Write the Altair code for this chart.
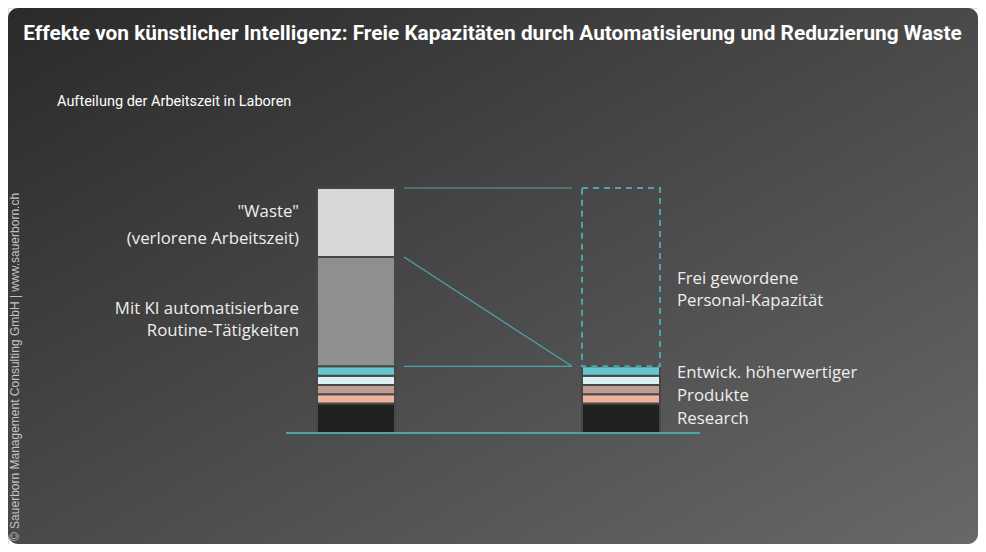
import altair as alt
import pandas as pd

# ---------------- data (% of working time) ----------------
segment_names = ["Research", "Produkte A", "Produkte B", "Produkte C", "Produkte D",
                 "Mit KI automatisierbare Routine-Tätigkeiten", "Waste"]
values_heute = [12.0, 3.8, 3.8, 3.8, 3.8, 44.6, 28.2]
values_mit_ki = [12.0, 3.8, 3.8, 3.8, 3.8, 0.0, 0.0]
segment_colors = ["#212121", "#efb39d", "#bf9c97", "#dcf0f2", "#66c6d0", "#8f8f8f", "#d7d7d7"]

left_label_lines = ['"Waste"', "(verlorene Arbeitszeit)", "Mit KI automatisierbare", "Routine-Tätigkeiten"]
left_label_y = [90.2, 79.2, 50.6, 41.6]
right_label_lines = ["Frei gewordene", "Personal-Kapazität", "Entwick. höherwertiger", "Produkte", "Research"]
right_label_y = [62.9, 53.9, 24.5, 15.1, 5.7]

title_text = "Effekte von künstlicher Intelligenz: Freie Kapazitäten durch Automatisierung und Reduzierung Waste"
subtitle_text = "Aufteilung der Arbeitszeit in Laboren"
credit_text = "© Sauerborn Management Consulting GmbH | www.sauerborn.ch"

# ---------------- layout ----------------
W, H = 970, 536
BAR_HEUTE = (309, 387)
BAR_KI = (574, 652)
CONN = (396, 564)
BASE = (278, 692)
LEFT_LABEL_X = 291
RIGHT_LABEL_X = 669
TEAL = "#4ea4ab"
FONT = "Open Sans"
TFONT = "Roboto"

xs = alt.Scale(domain=[0, W], range=[0, W], nice=False, zero=False)
ys = alt.Scale(domain=[-45.31, 173.47], nice=False, zero=False)

# build tables
rows = []
for bar, (x0, x1), vals in [("Heute", BAR_HEUTE, values_heute), ("Mit KI", BAR_KI, values_mit_ki)]:
    cum = 0.0
    for name, v in zip(segment_names, vals):
        if v > 0:
            rows.append(dict(bar=bar, segment=name, x=x0, x2=x1, y=cum, y2=cum + v))
        cum += v
seg_df = pd.DataFrame(rows)

total = sum(values_heute)
kept = sum(values_mit_ki)
routine_top = sum(values_heute[:6])

free_df = pd.DataFrame([dict(x=BAR_KI[0], x2=BAR_KI[1], y=kept, y2=total)])
conn_df = pd.DataFrame([
    dict(x=CONN[0], x2=CONN[1], y=total, y2=total),
    dict(x=CONN[0], x2=CONN[1], y=routine_top, y2=kept),
    dict(x=CONN[0], x2=CONN[1], y=kept, y2=kept),
])
base_df = pd.DataFrame([dict(x=BASE[0], x2=BASE[1], y=0.0)])
lab_df = pd.DataFrame(
    [dict(t=t, x=LEFT_LABEL_X, y=y, side="L") for t, y in zip(left_label_lines, left_label_y)]
    + [dict(t=t, x=RIGHT_LABEL_X, y=y, side="R") for t, y in zip(right_label_lines, right_label_y)]
)
one = pd.DataFrame({"a": [0]})

X = lambda f: alt.X(f, scale=xs, axis=None)
Y = lambda f: alt.Y(f, scale=ys, axis=None)

bg = alt.Chart(one).mark_rect(
    cornerRadius=10,
    color=alt.LinearGradient(gradient="linear", x1=0, y1=0, x2=1, y2=1,
                             stops=[alt.GradientStop(offset=0, color="#2a2a2a"),
                                    alt.GradientStop(offset=1, color="#686868")]),
).encode(x=alt.value(0), x2=alt.value(W), y=alt.value(0), y2=alt.value(H))

title = alt.Chart(one).mark_text(
    text=title_text, font=TFONT, fontSize=20.8, fontWeight="bold", color="#ffffff",
    align="center", baseline="middle",
).encode(x=alt.value(484.5), y=alt.value(26))

subtitle = alt.Chart(one).mark_text(
    text=subtitle_text, font=TFONT, fontSize=14.5, color="#ffffff",
    align="left", baseline="middle",
).encode(x=alt.value(49), y=alt.value(94))

credit = alt.Chart(one).mark_text(
    text=credit_text, font="Liberation Sans", fontSize=12, color="#c4c4c4",
    align="center", baseline="middle", angle=270,
).encode(x=alt.value(7), y=alt.value(359))

bars = alt.Chart(seg_df).mark_rect(stroke="#474747", strokeWidth=2).encode(
    x=X("x:Q"), x2="x2:Q", y=Y("y:Q"), y2="y2:Q",
    color=alt.Color("segment:N", scale=alt.Scale(domain=segment_names, range=segment_colors), legend=None),
)

free = alt.Chart(free_df).mark_rect(
    fillOpacity=0, stroke=TEAL, strokeWidth=2, strokeDash=[6, 5]
).encode(x=X("x:Q"), x2="x2:Q", y=Y("y:Q"), y2="y2:Q")

conn = alt.Chart(conn_df).mark_rule(color=TEAL, strokeWidth=1.2).encode(
    x=X("x:Q"), x2="x2:Q", y=Y("y:Q"), y2="y2:Q"
)

base = alt.Chart(base_df).mark_rule(color=TEAL, strokeWidth=2).encode(
    x=X("x:Q"), x2="x2:Q", y=Y("y:Q")
)

lab_l = alt.Chart(lab_df[lab_df.side == "L"]).mark_text(
    font=FONT, fontSize=16.8, color="#eeeeee", align="right", baseline="middle"
).encode(x=X("x:Q"), y=Y("y:Q"), text="t:N")

lab_r = alt.Chart(lab_df[lab_df.side == "R"]).mark_text(
    font=FONT, fontSize=16.8, color="#eeeeee", align="left", baseline="middle"
).encode(x=X("x:Q"), y=Y("y:Q"), text="t:N")

chart = alt.layer(bg, title, subtitle, credit, bars, free, conn, base, lab_l, lab_r).properties(
    width=W, height=H, padding=0, autosize=alt.AutoSizeParams(type="none")
).configure_view(stroke=None).configure(background="#ffffff")

chart.save("out.html", embed_options={"renderer": "svg", "actions": False})
